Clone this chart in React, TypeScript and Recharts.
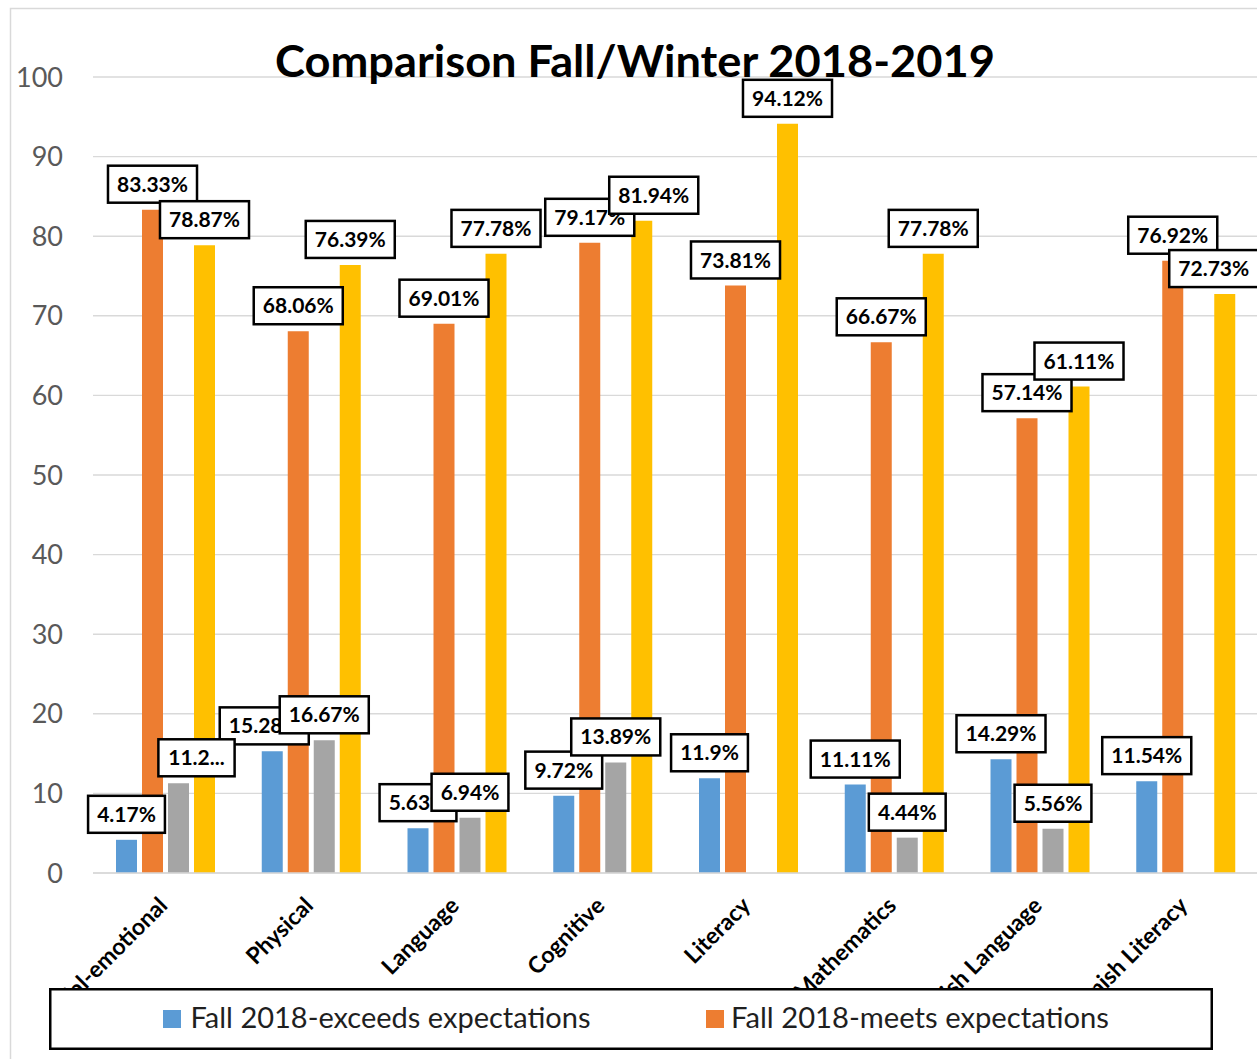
import React from 'react';
import {
  BarChart,
  Bar,
  XAxis,
  YAxis,
  CartesianGrid,
  LabelList,
  Legend,
  Customized,
} from 'recharts';

// ---------- data ----------
const categories = [
  'Social-emotional',
  'Physical',
  'Language',
  'Cognitive',
  'Literacy',
  'Mathematics',
  'Spanish Language',
  'Spanish Literacy',
];
const fallExceeds = [4.17, 15.28, 5.63, 9.72, 11.9, 11.11, 14.29, 11.54];
const fallMeets = [83.33, 68.06, 69.01, 79.17, 73.81, 66.67, 57.14, 76.92];
const winterExceeds: (number | null)[] = [11.27, 16.67, 6.94, 13.89, null, 4.44, 5.56, null];
const winterMeets = [78.87, 76.39, 77.78, 81.94, 94.12, 77.78, 61.11, 72.73];
const yTicks = [0, 10, 20, 30, 40, 50, 60, 70, 80, 90, 100];

const seriesNames = {
  fallExceeds: 'Fall 2018-exceeds expectations',
  fallMeets: 'Fall 2018-meets expectations',
  winterExceeds: 'Winter 2019-exceeds expectations',
  winterMeets: 'Winter 2019-meets expectations',
};

// label text shown truncated in the original
const labelTextOverrides: Record<string, string> = {
  'winterExceeds|Social-emotional': '11.2...',
};
// small label nudges (Excel moved these to avoid overlaps)
const labelNudges: Record<string, number> = {
  'winterExceeds|Social-emotional': 18,
  'fallExceeds|Physical': -8,
  'winterMeets|Cognitive': 12,
  'winterMeets|Spanish Literacy': -11,
};

const data = categories.map((c, i) => ({
  category: c,
  fallExceeds: fallExceeds[i],
  fallMeets: fallMeets[i],
  winterExceeds: winterExceeds[i],
  winterMeets: winterMeets[i],
}));

// ---------- styling ----------
const COLORS = {
  fallExceeds: '#5B9BD5',
  fallMeets: '#ED7D31',
  winterExceeds: '#A5A5A5',
  winterMeets: '#FFC000',
};
const FONT = 'Lato, "Open Sans", "DejaVu Sans", sans-serif';
const seriesKeys = ['fallExceeds', 'fallMeets', 'winterExceeds', 'winterMeets'] as const;

const CHAR_W: Record<string, number> = { '.': 0.27, '%': 0.84 };
const textWidth = (s: string, size: number) =>
  s.split('').reduce((acc, ch) => acc + (CHAR_W[ch] ?? 0.58), 0) * size;

const makeLabel = (key: string) => (props: any) => {
  const { x, y, width, value, index } = props;
  if (value === null || value === undefined) return null;
  const cat = categories[index];
  const id = `${key}|${cat}`;
  const text = labelTextOverrides[id] ?? `${value}%`;
  const fs = 21;
  const w = textWidth(text, fs) + 17;
  const h = 37;
  const cx = Number(x) + Number(width) / 2 + (labelNudges[id] ?? 0);
  const bottom = Number(y) - 7;
  return (
    <g key={id}>
      <rect
        x={cx - w / 2}
        y={bottom - h}
        width={w}
        height={h}
        fill="#fff"
        stroke="#000"
        strokeWidth={2.5}
      />
      <text
        x={cx}
        y={bottom - h / 2}
        dy="0.36em"
        textAnchor="middle"
        fontFamily={FONT}
        fontWeight="bold"
        fontSize={fs}
        fill="#000"
      >
        {text}
      </text>
    </g>
  );
};

const CategoryTick = (props: any) => {
  const { x, y, payload } = props;
  const ax = Number(x) + 3;
  const ay = Number(y) + 34;
  return (
    <g clipPath="url(#xlabel-clip)">
      <text
        x={ax}
        y={ay}
        transform={`rotate(-45 ${ax} ${ay})`}
        textAnchor="end"
        fontFamily={FONT}
        fontWeight="bold"
        fontSize={23}
        fill="#000"
      >
        {payload.value}
      </text>
    </g>
  );
};

const LegendBox = () => {
  const items = [
    { key: 'fallExceeds', sq: 114, tx: 141.5, len: 400 },
    { key: 'fallMeets', sq: 657, tx: 682, len: 378 },
  ];
  return (
    <svg width={1164} height={62} style={{ display: 'block' }}>
      <rect x={1.25} y={1.25} width={1161.5} height={59.5} fill="#fff" stroke="#000" strokeWidth={2.5} />
      {items.map((it) => (
        <g key={it.key}>
          <rect x={it.sq} y={22} width={18} height={18} fill={(COLORS as any)[it.key]} />
          <text
            x={it.tx}
            y={40}
            fontFamily={FONT}
            fontSize={28}
            fill="#1f1f1f"
            textLength={it.len}
            lengthAdjust="spacingAndGlyphs"
          >
            {(seriesNames as any)[it.key]}
          </text>
        </g>
      ))}
    </svg>
  );
};

const Frame = () => (
  <g>
    <defs>
      <clipPath id="xlabel-clip">
        <rect x={0} y={0} width={1300} height={988} />
      </clipPath>
    </defs>
    <path d="M10.5 1100 V8.5 H1300" fill="none" stroke="#D9D9D9" strokeWidth={1.5} />
  </g>
);

const Title = () => (
  <text
    x={635}
    y={77}
    textAnchor="middle"
    fontFamily={FONT}
    fontWeight="bold"
    fontSize={44}
    fill="#000"
    textLength={720}
    lengthAdjust="spacingAndGlyphs"
  >
    Comparison Fall/Winter 2018-2019
  </text>
);

export default function App() {
  return (
    <div
      style={{
        position: 'absolute',
        left: 0,
        top: 0,
        width: 1257,
        height: 1059,
        overflow: 'hidden',
        background: '#fff',
      }}
    >
      <BarChart
        width={1259}
        height={1059}
        data={data}
        margin={{ top: 77, right: 0, left: 0, bottom: 86 }}
        barGap={5}
      >
        <Customized component={<Frame />} />
        <CartesianGrid vertical={false} stroke="#D9D9D9" strokeWidth={1.4} />
        <XAxis
          dataKey="category"
          interval={0}
          height={100}
          axisLine={{ stroke: '#D9D9D9', strokeWidth: 1.4 }}
          tickLine={false}
          tickSize={0}
          tickMargin={0}
          tick={<CategoryTick />}
        />
        <XAxis xAxisId="lbl" dataKey="category" hide />
        <YAxis
          domain={[0, 100]}
          ticks={yTicks}
          width={93}
          axisLine={false}
          tickLine={false}
          tickSize={0}
          tickMargin={30}
          tick={{ fill: '#595959', fontSize: 27, fontFamily: FONT }}
        />
        {seriesKeys.map((k) => (
          <Bar
            key={k}
            dataKey={k}
            name={(seriesNames as any)[k]}
            fill={(COLORS as any)[k]}
            barSize={21}
            isAnimationActive={false}
          />
        ))}
        {seriesKeys.map((k) => (
          <Bar
            key={`lbl-${k}`}
            xAxisId="lbl"
            dataKey={k}
            fill="transparent"
            barSize={21}
            legendType="none"
            isAnimationActive={false}
          >
            <LabelList dataKey={k} content={makeLabel(k)} />
          </Bar>
        ))}
        <Legend
          layout="horizontal"
          verticalAlign="middle"
          align="center"
          content={() => <LegendBox />}
          wrapperStyle={{ left: 49, top: 988, width: 1164, height: 62 }}
        />
        <Customized component={<Title />} />
      </BarChart>
    </div>
  );
}
